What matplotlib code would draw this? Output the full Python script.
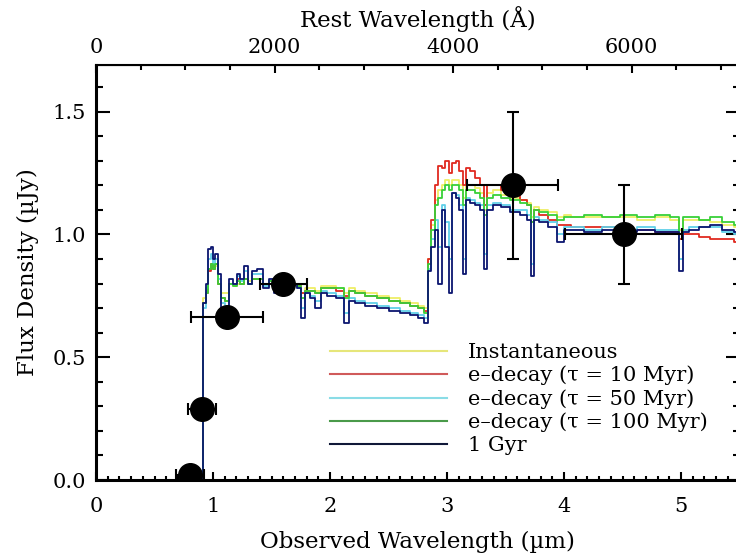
import matplotlib
matplotlib.use("Agg")
import matplotlib.pyplot as plt
from matplotlib.ticker import MultipleLocator, FixedLocator

plt.rcParams['font.family'] = ['DejaVu Serif']
plt.rcParams['mathtext.fontset'] = 'dejavuserif'

# ---------------- data ----------------
wave = [0.50, 0.90, 0.925, 0.95, 0.97, 0.99, 1.01, 1.03, 1.05, 1.08,
        1.12, 1.16, 1.19, 1.22, 1.25, 1.28, 1.31, 1.35, 1.40, 1.45,
        1.50, 1.55, 1.60, 1.65, 1.70, 1.74, 1.77, 1.80, 1.85, 1.90,
        1.95, 2.00, 2.10, 2.14, 2.18, 2.25, 2.35, 2.45, 2.55, 2.65,
        2.72, 2.78, 2.82, 2.85, 2.88, 2.91, 2.94, 2.97, 3.00, 3.03,
        3.06, 3.09, 3.12, 3.15, 3.18, 3.22, 3.26, 3.30, 3.33, 3.36,
        3.42, 3.50, 3.58, 3.66, 3.70, 3.73, 3.76, 3.82, 3.90, 3.98,
        4.02, 4.10, 4.25, 4.40, 4.55, 4.70, 4.85, 4.97, 5.00, 5.03,
        5.10, 5.20, 5.30, 5.40, 5.50]

flux_1gyr = [0, 0, 0.72, 0.80, 0.94, 0.95, 0.90, 0.92, 0.84, 0.70,
             0.68, 0.82, 0.80, 0.84, 0.82, 0.87, 0.80, 0.85, 0.86, 0.78,
             0.82, 0.76, 0.82, 0.81, 0.80, 0.78, 0.66, 0.76, 0.74, 0.70,
             0.76, 0.75, 0.74, 0.64, 0.73, 0.72, 0.71, 0.70, 0.69, 0.68,
             0.67, 0.66, 0.64, 0.85, 0.95, 1.02, 0.80, 1.10, 0.95, 0.76,
             1.17, 1.15, 1.10, 0.84, 1.14, 1.13, 1.12, 1.10, 0.86, 1.10,
             1.12, 1.11, 1.09, 1.08, 1.06, 0.83, 1.06, 1.05, 1.03, 0.97,
             1.02, 1.02, 1.01, 1.02, 1.01, 1.02, 1.01, 1.01, 0.85, 1.01,
             1.02, 1.03, 1.04, 1.02, 1.01]

flux_50myr = [0, 0, 0.70, 0.78, 0.90, 0.92, 0.88, 0.90, 0.82, 0.72,
              0.70, 0.80, 0.80, 0.83, 0.81, 0.85, 0.80, 0.84, 0.84, 0.79,
              0.81, 0.78, 0.82, 0.81, 0.80, 0.78, 0.70, 0.76, 0.75, 0.73,
              0.77, 0.76, 0.75, 0.68, 0.74, 0.73, 0.72, 0.71, 0.70, 0.69,
              0.68, 0.67, 0.66, 0.86, 0.98, 1.06, 0.95, 1.12, 1.05, 0.90,
              1.17, 1.16, 1.12, 0.90, 1.15, 1.14, 1.13, 1.12, 0.92, 1.12,
              1.13, 1.12, 1.10, 1.10, 1.08, 0.88, 1.07, 1.06, 1.05, 1.00,
              1.03, 1.03, 1.02, 1.03, 1.02, 1.03, 1.02, 1.02, 0.90, 1.02,
              1.03, 1.03, 1.03, 1.01, 1.00]

flux_100myr = [0, 0, 0.72, 0.76, 0.86, 0.88, 0.86, 0.88, 0.80, 0.74,
               0.73, 0.80, 0.79, 0.81, 0.80, 0.82, 0.80, 0.82, 0.82, 0.80,
               0.81, 0.80, 0.81, 0.81, 0.80, 0.79, 0.74, 0.77, 0.77, 0.76,
               0.78, 0.78, 0.78, 0.74, 0.77, 0.76, 0.75, 0.74, 0.73, 0.72,
               0.71, 0.70, 0.68, 0.88, 1.02, 1.12, 1.15, 1.18, 1.20, 1.18,
               1.20, 1.20, 1.18, 1.12, 1.18, 1.18, 1.17, 1.15, 1.08, 1.15,
               1.16, 1.15, 1.14, 1.13, 1.12, 1.05, 1.10, 1.09, 1.08, 1.06,
               1.07, 1.07, 1.08, 1.07, 1.08, 1.07, 1.08, 1.07, 1.00, 1.07,
               1.07, 1.06, 1.07, 1.05, 1.04]

flux_inst = [0, 0, 0.74, 0.78, 0.86, 0.88, 0.86, 0.87, 0.80, 0.76,
             0.76, 0.80, 0.79, 0.80, 0.80, 0.82, 0.81, 0.82, 0.82, 0.80,
             0.81, 0.80, 0.81, 0.81, 0.80, 0.80, 0.76, 0.78, 0.78, 0.77,
             0.79, 0.79, 0.78, 0.76, 0.78, 0.77, 0.76, 0.75, 0.74, 0.73,
             0.72, 0.71, 0.70, 0.90, 1.04, 1.14, 1.18, 1.20, 1.22, 1.20,
             1.22, 1.22, 1.20, 1.15, 1.20, 1.20, 1.19, 1.17, 1.10, 1.17,
             1.18, 1.16, 1.15, 1.14, 1.13, 1.07, 1.11, 1.10, 1.09, 1.07,
             1.08, 1.07, 1.07, 1.07, 1.07, 1.06, 1.07, 1.06, 1.02, 1.06,
             1.06, 1.06, 1.05, 1.04, 1.03]

flux_10myr = [0, 0, 0.72, 0.76, 0.85, 0.88, 0.86, 0.88, 0.80, 0.74,
              0.73, 0.80, 0.80, 0.82, 0.80, 0.82, 0.80, 0.82, 0.82, 0.80,
              0.81, 0.80, 0.81, 0.81, 0.80, 0.79, 0.76, 0.77, 0.77, 0.76,
              0.78, 0.78, 0.77, 0.75, 0.77, 0.76, 0.75, 0.74, 0.73, 0.72,
              0.71, 0.70, 0.69, 0.90, 1.06, 1.20, 1.28, 1.27, 1.30, 1.25,
              1.29, 1.30, 1.26, 1.20, 1.27, 1.26, 1.23, 1.20, 1.12, 1.20,
              1.20, 1.18, 1.16, 1.14, 1.12, 1.05, 1.10, 1.08, 1.06, 1.04,
              1.04, 1.03, 1.03, 1.03, 1.02, 1.02, 1.01, 1.01, 0.98, 1.00,
              1.00, 0.99, 0.98, 0.98, 0.97]

phot_wave = [0.80, 0.905, 1.12, 1.60, 3.56, 4.51]
phot_flux = [0.02, 0.29, 0.665, 0.80, 1.20, 1.00]
phot_werr = [0.12, 0.12, 0.31, 0.20, 0.39, 0.50]
phot_ferr = [0.0, 0.0, 0.0, 0.0, 0.30, 0.20]

labels = ["Instantaneous", "e\u2013decay (\u03c4 = 10 Myr)",
          "e\u2013decay (\u03c4 = 50 Myr)", "e\u2013decay (\u03c4 = 100 Myr)",
          "1 Gyr"]
rest_ticks = [0, 2000, 4000, 6000]
one_plus_z = 7.63

# ---------------- figure ----------------
fig = plt.figure(figsize=(7.36, 5.57), dpi=100)
ax = fig.add_axes([96/736, 77/557, 643.5/736, 415/557])

series = [flux_inst, flux_10myr, flux_50myr, flux_100myr, flux_1gyr]
colors = ['#eeee66', '#e02a20', '#60d0e8', '#38d038', '#0c1670']
leg_colors = ['#e6e67a', '#d05a5a', '#8adce6', '#4a9a4a', '#101838']
handles = []
for f, c, lc, lab in zip(series, colors, leg_colors, labels):
    ax.plot(wave, f, drawstyle='steps-mid', color=c, lw=1.3)
    h, = ax.plot([], [], color=lc, lw=1.5, label=lab)
    handles.append(h)

ax.errorbar(phot_wave, phot_flux, xerr=phot_werr, yerr=phot_ferr,
            fmt='o', color='black', ms=17, elinewidth=1.5, capsize=4,
            capthick=1.5, zorder=5)

ax.set_xlim(0, 5.5)
ax.set_ylim(0, 1.69)
ax.xaxis.set_major_locator(MultipleLocator(1))
ax.xaxis.set_minor_locator(MultipleLocator(0.1))
ax.yaxis.set_major_locator(MultipleLocator(0.5))
ax.yaxis.set_minor_locator(MultipleLocator(0.1))
ax.yaxis.set_major_formatter(matplotlib.ticker.FormatStrFormatter('%.1f'))
ax.tick_params(which='both', direction='in', top=False, right=True,
               labelsize=15, width=1.5)
ax.tick_params(axis='x', which='major', length=6, pad=12)
ax.tick_params(axis='x', which='minor', length=3)
ax.tick_params(axis='y', which='major', length=10, pad=7)
ax.tick_params(axis='y', which='minor', length=5)
for s in ['left', 'bottom']:
    ax.spines[s].set_linewidth(2.2)
ax.spines['top'].set_linewidth(1.5)

ax.set_xlabel("Observed Wavelength (\u00b5m)", fontsize=16.5, labelpad=11)
ax.set_ylabel("Flux Density (\u00b5Jy)", fontsize=16.5, labelpad=10)

sec = ax.secondary_xaxis('top', functions=(lambda x: x * 1e4 / one_plus_z,
                                           lambda r: r * one_plus_z / 1e4))
sec.xaxis.set_major_locator(FixedLocator(rest_ticks))
sec.xaxis.set_minor_locator(MultipleLocator(500))
sec.tick_params(which='both', direction='in', labelsize=15, width=1.5)
sec.tick_params(which='major', length=6, pad=6)
sec.tick_params(which='minor', length=3.5)
sec.set_xlabel("Rest Wavelength (\u00c5)", fontsize=16.5, labelpad=8)

ax.legend(handles=handles, loc='upper left', bbox_to_anchor=(0.364, 0.33),
          frameon=False, fontsize=15, handlelength=5.6, handletextpad=1.0,
          labelspacing=0.18, borderpad=0, borderaxespad=0)

fig.savefig("out.png", dpi=100)
